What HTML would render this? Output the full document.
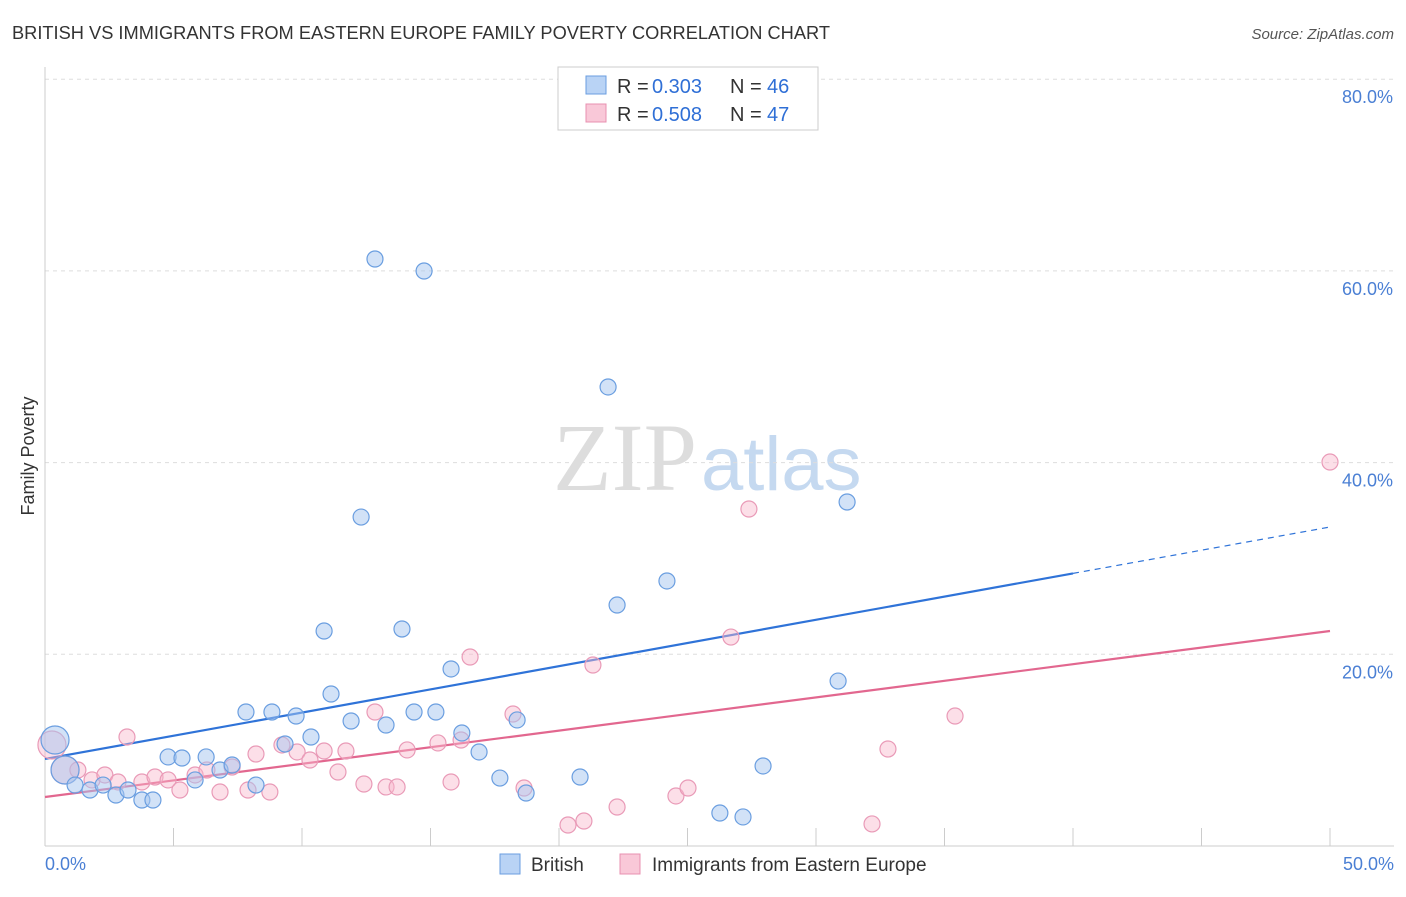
<!DOCTYPE html>
<html><head><meta charset="utf-8"><style>
body{margin:0;background:#fff;width:1406px;height:892px;overflow:hidden;font-family:"Liberation Sans",sans-serif}
</style></head><body>
<svg id="chart" width="1406" height="892" xmlns="http://www.w3.org/2000/svg" font-family="Liberation Sans, sans-serif">
<text x="12" y="39" font-size="18.2" fill="#333" textLength="818" lengthAdjust="spacingAndGlyphs">BRITISH VS IMMIGRANTS FROM EASTERN EUROPE FAMILY POVERTY CORRELATION CHART</text>
<text x="1394" y="39" font-size="15" fill="#555" font-style="italic" text-anchor="end">Source: ZipAtlas.com</text>
<text x="553" y="490" font-size="96" fill="#ddd" font-family="Liberation Serif, serif">ZIP<tspan fill="#c5d9f0" font-family="Liberation Sans, sans-serif" font-size="76" dx="4">atlas</tspan></text>
<g id="grid"></g>
<line x1="45" y1="67" x2="45" y2="846" stroke="#ccc"/>
<line x1="45" y1="846" x2="1394" y2="846" stroke="#ccc"/>
<text transform="translate(34,456) rotate(-90)" font-size="18" fill="#333" text-anchor="middle">Family Poverty</text>
<text x="45" y="870" font-size="18" fill="#4a7fd4">0.0%</text>
<text x="1394" y="870" font-size="18" fill="#4a7fd4" text-anchor="end">50.0%</text>
<g id="lines"></g>
<g id="points"></g>
<g>
<rect x="558" y="67" width="260" height="63" fill="#fff" stroke="#ccc"/>
<rect x="586" y="76" width="20" height="18" fill="#b9d3f5" stroke="#6a9ee0"/>
<rect x="586" y="104" width="20" height="18" fill="#f9c8d8" stroke="#e890b0"/>
<text x="617" y="93" font-size="20" fill="#333">R =</text><text x="652" y="93" font-size="20" fill="#2f6fd6">0.303</text>
<text x="730" y="93" font-size="20" fill="#333">N =</text><text x="767" y="93" font-size="20" fill="#2f6fd6">46</text>
<text x="617" y="121" font-size="20" fill="#333">R =</text><text x="652" y="121" font-size="20" fill="#2f6fd6">0.508</text>
<text x="730" y="121" font-size="20" fill="#333">N =</text><text x="767" y="121" font-size="20" fill="#2f6fd6">47</text>
</g>
<g>
<rect x="500" y="854" width="20" height="20" fill="#b9d3f5" stroke="#6a9ee0"/>
<text x="531" y="871" font-size="19" fill="#333">British</text>
<rect x="620" y="854" width="20" height="20" fill="#f9c8d8" stroke="#e890b0"/>
<text x="652" y="871" font-size="19" fill="#333">Immigrants from Eastern Europe</text>
</g>
</svg>
<script>
const yTicks=[20,40,60,80];
const yTickLabels=["20.0%","40.0%","60.0%","80.0%"];
const xTicks=[0,5,10,15,20,25,30,35,40,45,50];
const britishX=[0.39,0.78,1.17,1.75,2.26,2.76,3.23,3.77,4.20,4.79,5.33,5.84,6.27,6.81,7.28,7.82,8.21,8.83,9.34,9.77,10.35,10.86,11.13,11.91,12.30,12.84,13.27,13.89,14.36,14.75,15.21,15.80,16.22,16.89,17.70,18.37,18.72,20.82,21.91,22.26,24.20,26.26,27.16,27.94,30.86,31.21];
const britishY=[11.06,7.93,6.36,5.84,6.36,5.32,5.84,4.80,4.80,9.29,9.18,6.89,9.29,7.93,8.45,13.98,6.36,13.98,10.64,13.56,11.37,22.43,15.86,13.04,34.32,61.24,12.62,22.64,13.98,59.99,13.98,18.47,11.79,9.81,7.09,13.15,5.53,7.20,47.89,25.14,27.65,3.44,3.03,8.35,17.21,35.89];
const britishSize=[2,2,1,1,1,1,1,1,1,1,1,1,1,1,1,1,1,1,1,1,1,1,1,1,1,1,1,1,1,1,1,1,1,1,1,1,1,1,1,1,1,1,1,1,1,1];
const immX=[0.27,0.78,1.28,1.83,2.33,2.84,3.19,3.77,4.28,4.79,5.25,5.84,6.30,6.81,7.28,7.90,8.21,8.75,9.22,9.81,10.31,10.86,11.40,11.71,12.41,12.84,13.27,13.70,14.09,15.29,15.80,16.19,16.54,18.21,18.64,20.35,20.97,21.32,22.26,24.55,25.02,26.69,27.39,32.18,32.80,35.41,50.0];
const immY=[10.54,7.93,7.93,6.89,7.41,6.68,11.37,6.68,7.20,6.89,5.84,7.41,7.93,5.63,8.24,5.84,9.60,5.63,10.54,9.81,8.97,9.91,7.72,9.91,6.47,13.98,6.16,6.16,10.02,10.75,6.68,11.06,19.72,13.77,6.05,2.19,2.61,18.88,4.07,5.22,6.05,21.80,35.16,2.30,10.12,13.56,40.06];
const immSize=[2,2,1,1,1,1,1,1,1,1,1,1,1,1,1,1,1,1,1,1,1,1,1,1,1,1,1,1,1,1,1,1,1,1,1,1,1,1,1,1,1,1,1,1,1,1,1];
const britishTrend=[9.08,33.28];
const immTrend=[5.11,22.43];
const NS="http://www.w3.org/2000/svg";
const sx=v=>45+v/50*1285;
const sy=v=>846-v*9.585;
function mk(tag,attrs,parent){const e=document.createElementNS(NS,tag);for(const k in attrs)e.setAttribute(k,attrs[k]);parent.appendChild(e);return e;}
const grid=document.getElementById('grid');
yTicks.forEach((t,i)=>{
 const l=mk('line',{x1:45,x2:1394,y1:sy(t),y2:sy(t),stroke:'#ddd','stroke-dasharray':'4,4'},grid);
 
 
 const tx=mk('text',{x:1393,y:sy(t)+24,'font-size':18,fill:'#4a7fd4','text-anchor':'end'},grid);
 tx.textContent=yTickLabels[i];
 
 
});
xTicks.forEach(t=>{
 const l=mk('line',{x1:sx(t),x2:sx(t),y1:828,y2:846,stroke:'#ccc'},grid);
 
 
});
const pts=document.getElementById('points');
function drawSeries(xs,ys,ss,fill,stroke,name){
 xs.forEach((x,i)=>{
  const c=mk('circle',{cx:sx(x),cy:sy(ys[i]),r:ss[i]>1?14:8,fill:fill,stroke:stroke,'stroke-width':1.2},pts);
  
  
 });
}
drawSeries(immX,immY,immSize,'rgba(248,185,205,0.45)','#e99ab7','immigrants-point');
drawSeries(britishX,britishY,britishSize,'rgba(165,198,240,0.5)','#6a9ee0','british-point');
const ln=document.getElementById('lines');
const bx2=40;
const bMid=britishTrend[0]+(britishTrend[1]-britishTrend[0])*bx2/50;
let l1=mk('line',{x1:sx(0),y1:sy(britishTrend[0]),x2:sx(bx2),y2:sy(bMid),stroke:'#2f73d8','stroke-width':2.2},ln);


let l2=mk('line',{x1:sx(bx2),y1:sy(bMid),x2:sx(50),y2:sy(britishTrend[1]),stroke:'#2f73d8','stroke-width':1.2,'stroke-dasharray':'6,5'},ln);


let l3=mk('line',{x1:sx(0),y1:sy(immTrend[0]),x2:sx(50),y2:sy(immTrend[1]),stroke:'#e2678f','stroke-width':2.2},ln);


</script>
</body></html>
